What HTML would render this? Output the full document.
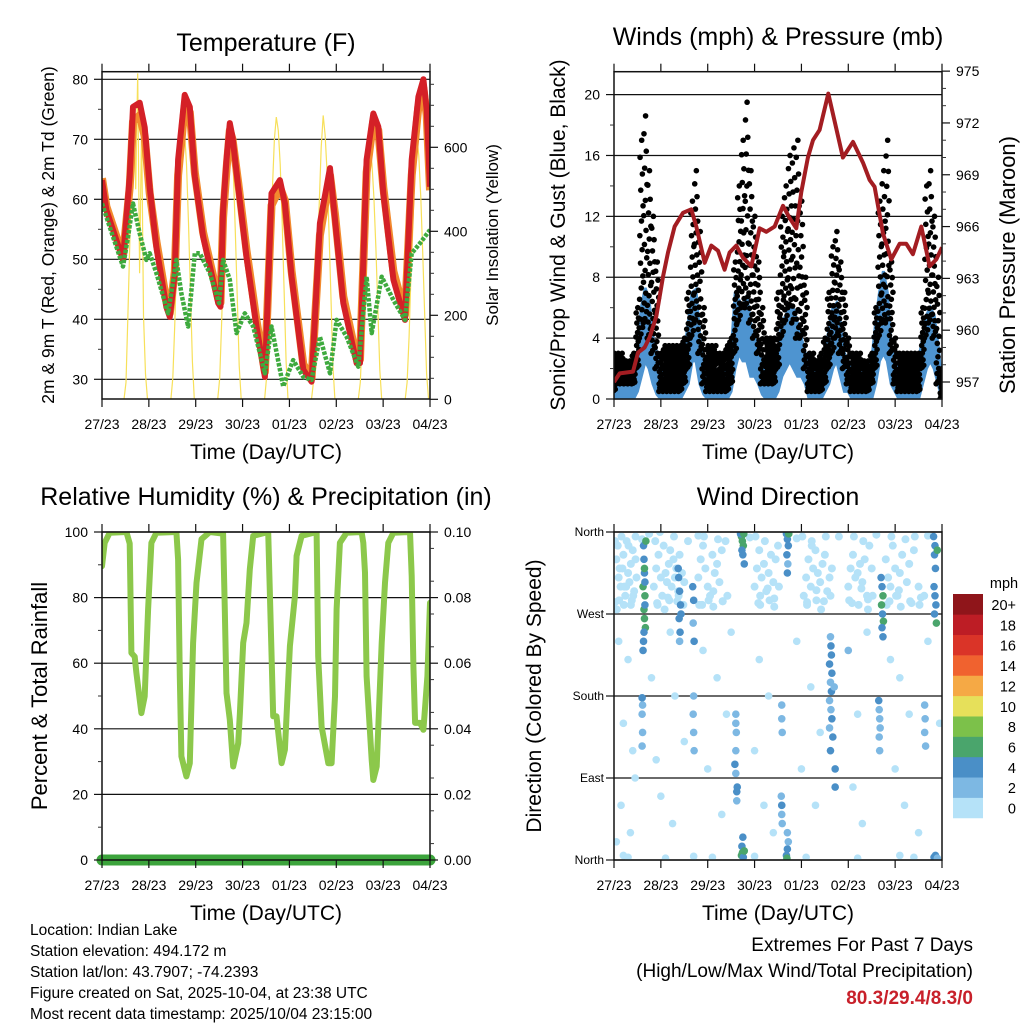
<!DOCTYPE html>
<html><head><meta charset="utf-8"><title>Indian Lake station meteogram</title>
<style>
html,body{margin:0;padding:0;background:#fff;}
svg{display:block;font-family:"Liberation Sans",Arial,sans-serif;}
</style></head>
<body>
<svg id="chart" xmlns="http://www.w3.org/2000/svg" width="1024" height="1024" viewBox="0 0 1024 1024">
<rect x="0" y="0" width="1024" height="1024" fill="#fff"/>
<g id="layer"></g>
<!-- Titles -->
<text x="266" y="51" font-size="25" text-anchor="middle">Temperature (F)</text>
<text x="778" y="45" font-size="25" text-anchor="middle">Winds (mph) &amp; Pressure (mb)</text>
<text x="266" y="505" font-size="25" text-anchor="middle">Relative Humidity (%) &amp; Precipitation (in)</text>
<text x="778" y="505" font-size="25" text-anchor="middle">Wind Direction</text>
<!-- axis titles -->
<text x="266" y="459" font-size="21" text-anchor="middle">Time (Day/UTC)</text>
<text x="778" y="459" font-size="21" text-anchor="middle">Time (Day/UTC)</text>
<text x="266" y="920" font-size="21" text-anchor="middle">Time (Day/UTC)</text>
<text x="778" y="920" font-size="21" text-anchor="middle">Time (Day/UTC)</text>
<text transform="translate(54,235) rotate(-90)" font-size="17.5" text-anchor="middle">2m &amp; 9m T (Red, Orange) &amp; 2m Td (Green)</text>
<text transform="translate(498,235) rotate(-90)" font-size="17" text-anchor="middle">Solar Insolation (Yellow)</text>
<text transform="translate(565,235) rotate(-90)" font-size="21" text-anchor="middle">Sonic/Prop Wind &amp; Gust (Blue, Black)</text>
<text transform="translate(1015,265) rotate(-90)" font-size="22" text-anchor="middle">Station Pressure (Maroon)</text>
<text transform="translate(47,696) rotate(-90)" font-size="22" text-anchor="middle">Percent &amp; Total Rainfall</text>
<text transform="translate(541,696) rotate(-90)" font-size="21" text-anchor="middle">Direction (Colored By Speed)</text>
<!-- legend -->
<text x="1004" y="588" font-size="14.5" text-anchor="middle">mph</text>
<g id="legend"></g>
<!-- footer -->
<g font-size="15.5">
<text x="30" y="935">Location: Indian Lake</text>
<text x="30" y="956">Station elevation: 494.172 m</text>
<text x="30" y="977">Station lat/lon: 43.7907; -74.2393</text>
<text x="30" y="998">Figure created on Sat, 2025-10-04, at 23:38 UTC</text>
<text x="30" y="1019">Most recent data timestamp: 2025/10/04 23:15:00</text>
</g>
<text x="973" y="951" font-size="19" text-anchor="end">Extremes For Past 7 Days</text>
<text x="973" y="977" font-size="19" text-anchor="end">(High/Low/Max Wind/Total Precipitation)</text>
<text x="973" y="1004" font-size="19" font-weight="bold" fill="#c8202a" text-anchor="end">80.3/29.4/8.3/0</text>
</svg>
<script>
// ---------- shared categories ----------
const dayLabels = ["27/23","28/23","29/23","30/23","01/23","02/23","03/23","04/23"];

// ---------- temperature panel ----------
const redT = [0,.093,.449,.591,.662,.805,.912,1.018,1.161,1.375,1.446,1.553,1.624,1.766,1.873,1.980,2.158,2.479,2.528,2.585,2.657,2.728,2.785,2.906,3.084,3.298,3.476,3.618,3.796,3.903,4.046,4.295,4.473,4.651,4.865,4.972,5.150,5.434,5.506,5.648,5.791,5.897,6.004,6.218,6.467,6.610,6.752,6.859,6.930,7.0];
const redV = [63.2,58.2,49.9,63.8,75.4,76.1,72,62,52,42,40.4,47.7,66.6,77.4,75.4,63.8,53.8,42.7,42.1,58.2,66.6,72.7,70.4,62.1,50.4,38.8,30.4,61,63.2,59.3,47.1,31.6,29.6,56,65.2,56.6,42.7,32.7,32.7,66.6,74.3,72.1,61,46.6,39.9,66.6,77.1,80,74.9,62.1];
const orangeV = [63.5,58.8,50.5,62,73,74,70.5,61,53,43,41,48,64,75.5,74.5,64.5,54.5,43.5,42.8,57,65,71.5,70,62.8,51.5,39.8,31.2,59,62,59.8,48,32.5,30.2,54,64,57.5,43.8,33.5,33.3,64.5,73,71.5,62,48,40.8,64,75.5,78.5,74,61.5];
const dewT = [0,.164,.449,.556,.662,.805,.947,1.018,1.161,1.410,1.588,1.695,1.838,1.980,2.087,2.301,2.5,2.585,2.728,2.870,3.048,3.226,3.476,3.618,3.868,4.081,4.295,4.473,4.651,4.865,5.007,5.221,5.470,5.648,5.755,5.969,6.218,6.467,6.610,6.788,7.0];
const dewV = [59.3,55.4,48.8,53.8,59.3,54.3,49.9,51,47.7,41,49.9,44.3,38.8,51,51,47.7,42.7,49.9,46.6,37.7,41,38.8,31,38.8,28.8,33.2,30.4,29.9,37.1,31,39.9,37.1,32.1,47.1,37.7,47.1,43.2,39.9,51,52.7,54.9];
const solarDay0 = [0,40,200,380,560,700,500,776,300,650,200,60,0];
const solarDay1 = [0,50,180,340,480,600,664,640,560,420,260,90,0];
const solarDay2 = [0,50,180,340,480,600,664,630,540,400,240,80,0];
const solarDay3 = [0,50,190,350,500,620,672,640,560,420,260,90,0];
const solarDay4 = [0,40,170,330,470,600,676,630,540,400,240,80,0];
const solarDay5 = [0,40,150,300,440,560,600,560,480,360,220,70,0];
const solarDay6 = [0,40,150,300,420,560,624,580,480,350,200,60,0];
const tempTicks = [30,40,50,60,70,80];
const solarTicks = [0,200,400,600];

// ---------- wind panel (2-hourly) ----------
const windHi = [2,2,1.5,1.5,1.5,2,3,6,7.3,6.5,4,3, 2,2,1.5,1.5,2,2,3,5,7,7.2,4,2.5, 2,2,2,1.5,1.5,2,3,6.8,6.5,6,6.8,5, 4,3,2.5,2,2,2.5,3,5,5.5,6,5.9,5, 4,3,2,2,2,2,3,4.5,6,6.3,5,3, 2.5,2,2,2,2,2,2.5,5,7,8.4,7,3.5, 2.5,2,2,2,2,2,2.5,4,5.5,6,5.5,3.5, 1];
const windLo = [0,0,0,0,0,0,0.5,1.5,2.5,2,1,0.3, 0,0,0,0,0,0,0.5,1,2.5,2.5,1,0.3, 0,0,0,0,0,0,0.5,2,3,2.5,2.5,1.5, 1.5,1,0.3,0,0,0,0.5,1.5,2,2.5,2,1.5, 1.5,1,0,0,0,0,0.5,1,2,2.5,1.5,0.5, 0.5,0,0,0,0,0,0,1,2.5,3,2.5,1, 0.5,0,0,0,0,0,0,1,2,2.5,2,1, 0];
const gustHi = [3,3,3,2.5,2.5,3,6,17,18.6,15,12,9, 3,3.5,3.5,3.5,3.5,3.5,4,7,13,15,11,6, 3.5,3.5,3.5,3,3,3.5,4,9,14,17,19.5,15, 12,9,6,4,4,4,7,12,14,16,16.5,17, 13,8,3,3,2.5,3,4,7,10,11,9,7, 4,3,3,3,2.5,2.5,3,6,13,15,17,9, 4,3,3,3,3,3,3,6,14,15,12,8, 2];
const gustLo = [0.5,1,1,1,1,1,2,4,5,4,3,2, 0.5,0.5,0.5,0.5,0.5,0.5,1,2,4,5,3,1, 0.5,0.5,0.5,0.5,0.5,0.5,1,3,5,6,6,5, 4,3,1,1,1,1,2,4,5,6,5,4, 4,2,0.5,0.5,0.5,0.5,1,2,3,4,3,2, 1,0.5,0.5,0.5,0.5,0.5,1,2,4,5,5,3, 1,0.5,0.5,0.5,0.5,0.5,0.5,2,4,5,4,1, 0];
const presT = [0,.121,.405,.512,.654,.761,.903,1.046,1.152,1.294,1.472,1.650,1.757,1.935,2.077,2.219,2.361,2.468,2.610,2.752,2.930,3.108,3.250,3.428,3.606,3.748,3.890,3.997,4.139,4.246,4.388,4.573,4.886,5.100,5.313,5.455,5.562,5.740,5.917,6.095,6.238,6.380,6.558,6.735,6.878,7.0];
const presV = [957.0,957.5,957.6,958.7,959.0,959.6,960.8,963.1,964.5,966.0,966.8,967.0,966.0,963.9,964.9,964.6,963.5,964.5,964.9,964.2,963.7,965.9,965.7,966.0,967.2,966.5,965.9,968.0,970.0,971.0,971.6,973.7,970.0,970.9,969.7,968.7,968.3,965.6,964.1,965.0,965.0,964.4,966.0,963.7,964.1,964.8];
const windTicks = [0,4,8,12,16,20];
const presTicks = [957,960,963,966,969,972,975];

// ---------- humidity panel ----------
const rhT = [0,.057,.164,.520,.591,.627,.698,.734,.840,.912,.983,1.054,1.161,1.588,1.624,1.660,1.695,1.802,1.873,1.944,2.016,2.123,2.301,2.585,2.621,2.657,2.728,2.799,2.906,2.942,3.013,3.084,3.155,3.226,3.547,3.618,3.653,3.725,3.832,3.903,4.010,4.117,4.152,4.259,4.580,4.615,4.687,4.829,4.900,4.972,5.007,5.078,5.221,5.541,5.577,5.613,5.648,5.755,5.791,5.862,5.969,6.040,6.111,6.218,6.574,6.610,6.645,6.681,6.788,6.859,6.944,7.0];
const rhV = [89.6,96.7,99.8,100,96.5,63.1,62,57,44.8,49.9,76.4,96.7,99.8,100,91.6,56,31.6,25.5,29.5,66.2,84.5,97.8,100,99.5,76.4,50.9,42.8,28.5,35.6,44.8,66.2,72.3,88.6,98.8,100,63.1,43.8,43.8,29.5,33.6,65.2,80.4,92.7,98.8,100,62.1,40.7,29.5,29.5,49.9,76.4,96.7,99.8,100,96.7,87.6,56,30.5,24.4,28.5,66.2,84.5,96.7,99.8,100,86.6,59.1,41.8,41.8,39.7,56,78.4];
const precipT = [0,7];
const precipV = [0,0];
const rhTicks = [0,20,40,60,80,100];
const precipTicks = ["0.00","0.02","0.04","0.06","0.08","0.10"];

// ---------- wind direction panel ----------
const calmT = [0.05,0.08,0.1,0.14,0.18,0.2,0.24,0.27,0.3,0.33,0.36,0.4,0.43,0.46,0.48,0.12,
 0.85,0.9,0.95,1.0,1.03,1.06,1.1,1.13,1.17,1.2,1.23,1.27,1.3,1.33,1.37,1.4,1.45,1.5,
 1.8,1.85,1.9,1.95,2.0,2.05,2.1,2.15,2.2,2.25,2.3,2.38,
 3.0,3.05,3.1,3.15,3.2,3.25,3.3,3.35,3.4,3.45,3.5,3.12,
 4.05,4.1,4.15,4.2,4.25,4.3,4.35,4.4,4.45,4.5,4.55,4.6,4.65,4.22,
 5.0,5.05,5.1,5.15,5.2,5.25,5.3,5.35,5.4,5.45,5.5,
 5.8,5.85,5.9,5.95,6.0,6.05,6.1,6.15,6.25,6.3,6.4,6.5,
 0.02,0.22,0.38,0.92,1.15,1.35,1.88,2.12,2.32,3.08,3.28,3.42,4.12,4.32,4.48,5.08,5.28,5.42,5.88,6.08,6.35,6.55,0.6,0.75,1.8,2.9,3.9,4.8,5.6,6.7];
const calmDeg = [330,345,310,300,320,335,290,350,315,305,325,340,295,330,310,320,
 300,320,335,310,290,345,315,305,325,340,300,330,310,320,295,335,315,305,
 310,330,345,320,300,290,335,315,325,305,340,350,
 300,320,340,310,325,295,315,335,305,330,345,290,
 290,310,330,300,320,340,315,305,325,335,295,310,320,345,
 300,320,335,310,315,325,305,330,290,345,320,
 330,310,300,345,320,290,315,335,305,325,340,300,
 283,300,285,282,288,284,280,295,284,282,298,287,283,296,284,282,298,286,284,296,282,288,352,358,356,354,353,355,357,356];
const calm2T = [0.02,0.06,0.11,0.16,0.21,0.26,0.31,0.36,0.41,0.46, 0.88,0.93,0.98,1.08,1.18,1.28,1.38,1.48,1.58, 1.82,1.92,2.02,2.12,2.22,2.32,2.42, 3.02,3.12,3.22,3.32,3.42,3.52, 4.02,4.12,4.22,4.32,4.42,4.52,4.62, 5.02,5.12,5.22,5.32,5.42,5.52, 5.82,5.92,6.02,6.12,6.22,6.32,6.42,6.52,6.62];
const calm2Deg = [350,275,285,355,280,300,345,280,290,355, 350,280,360,275,285,355,290,280,350, 280,355,285,278,352,284,290, 355,280,350,285,278,300, 355,280,350,285,275,355,290, 285,355,280,350,275,290, 280,355,290,278,352,284,355,280,290];
const scatT = [0.1,0.3,0.2,0.4,0.15,0.35,0.05,0.45,0.8,0.9,1.0,1.2,1.3,1.25,1.5,1.9,2.0,2.2,2.3,2.4,2.5,3.0,3.1,3.2,3.3,3.4,3.9,4.0,4.2,4.3,4.4,5.0,5.1,5.2,5.3,5.4,5.9,6.0,6.1,6.2,6.3,6.5,6.7,6.95,0.2,0.3,1.1,1.7,4.1,5.2,6.1,6.4,2.1,3.0];
const scatDeg = [240,220,150,120,60,30,20,90,200,110,70,250,180,40,130,230,100,200,50,160,250,120,220,60,180,30,240,100,190,60,140,230,80,160,40,250,220,100,200,60,160,30,240,150,5,3,2,4,3,2,5,3,3,4];
const scatSpd = [1,1,1,1,1,1,1,1,1,1,1,1,1,1,1,1,1,1,1,1,1,1,1,1,1,1,1,1,1,1,1,2,1,1,1,1,1,1,1,1,1,1,1,1,1,1,1,1,1,1,1,1,1,1];
const streakT = [0.63,0.64,0.65,0.62,0.66,0.64,0.65,0.67,0.63,0.65,0.68,0.66,0.64,0.62,0.66,
 1.38,1.4,1.42,1.39,1.41,1.43,1.37,1.4,
 1.68,1.7,1.69,1.71,1.7,1.69,1.7,1.71,
 2.72,2.74,2.76,2.73,2.75,2.78,2.7,2.77,2.72,2.74,2.76,2.73,2.75,2.78,
 2.6,2.6,2.61,2.6,2.58,2.6,
 3.68,3.7,3.72,3.69,3.71,3.7,3.73,3.68,3.7,3.72,3.7,3.69,
 3.58,3.58,3.59,3.57,3.58,3.58,3.59,
 4.62,4.63,4.64,4.6,4.65,4.62,4.64,4.6,4.63,4.65,4.6,4.67,4.62,4.7,4.72,4.72,
 5.7,5.72,5.74,5.71,5.73,5.75,5.72,5.74,
 5.65,5.66,5.67,5.68,5.66,5.67,
 6.82,6.85,6.84,6.86,6.83,6.85,6.87,6.84,6.9,6.88,
 6.63,6.64,6.63,6.65,6.83,6.86,6.9,
 0.6,0.61,0.6,0.61,0.6, 2.62,2.63,2.62];
const streakDeg = [345,330,315,300,290,275,265,255,240,320,350,280,250,230,305,
 310,295,280,265,250,270,320,240,
 300,285,260,240,180,160,140,120,
 355,350,345,340,335,325,358,358,5,8,3,15,25,10,
 160,150,140,120,105,95,
 358,352,345,335,325,315,358,5,12,20,30,2,
 170,155,140,70,60,50,40,
 245,235,225,215,205,195,185,175,165,155,145,135,120,190,100,80,
 310,300,290,280,270,262,255,245,
 175,165,155,145,135,120,
 355,345,335,320,300,290,280,270,340,260,
 170,155,140,125,3,5,2,
 178,170,160,140,125, 75,80,65];
const streakSpd = [4,4,5,6,7,6,7,6,4,7,7,4,4,4,4,
 4,4,5,4,4,5,4,3,
 4,4,3,4,2,2,3,2,
 6,7,6,4,4,4,4,6,6,7,4,4,4,6,
 2,3,2,3,4,3,
 4,4,4,4,3,4,6,4,4,3,3,6,
 3,3,2,3,4,3,3,
 3,4,4,4,4,3,4,3,2,4,2,4,4,3,4,4,
 4,4,6,6,4,7,4,4,
 4,3,3,3,2,3,
 4,4,4,4,4,4,4,5,6,6,
 2,2,3,2,4,4,3,
 4,3,3,2,2, 4,4,3];
const dirTicks = [0,90,180,270,360];
const dirLabels = ["North","East","South","West","North"];
const speedBins = ["0","2","4","6","8","10","12","14","16","18","20+"];
const speedColors = ["#b5e2f8","#7db8e3","#4a8fc7","#4aa56c","#7cc14a","#e6e05a","#f5a945","#f0622f","#da3428","#bd1d25","#8f151a"];

// ---------- drawing ----------
const NS = "http://www.w3.org/2000/svg";
const layer = document.getElementById("layer");
function mk(tag, attrs, parent) {
  const e = document.createElementNS(NS, tag);
  for (const k in attrs) e.setAttribute(k, attrs[k]);
  (parent || layer).appendChild(e);
  return e;
}
function panelX(x0, x1) { return d => x0 + (x1 - x0) * d / 7; }

const P1 = {x0:102, x1:430, y0:71.7, y1:399};
const tX = panelX(P1.x0, P1.x1);
const tY = v => 79.3 + (80 - v) * 6;
const sY = v => 399.3 - v * 0.42;
const P2 = {x0:614, x1:942, y0:71.7, y1:399};
const wX = panelX(P2.x0, P2.x1);
const wY = v => 399 - v * 15.22;
const pY = p => 382 - (p - 957) * 17.27;
const P3 = {x0:102, x1:430, y0:532, y1:860};
const hX = panelX(P3.x0, P3.x1);
const hY = v => 860 - v * 3.28;
const prY = v => 860 - v * 3280;
const P4 = {x0:614, x1:942, y0:532, y1:860};
const dX = panelX(P4.x0, P4.x1);
const dY = d => 860 - d * 328 / 360;

function grid(P, ys, name) {
  ys.forEach(y => {
    const l = mk("line", {x1:P.x0, x2:P.x1, y1:y, y2:y, stroke:"#111", "stroke-width":1.2});
    
    
  });
}
function xAxis(P, xf, name) {
  for (let i = 0; i < dayLabels.length; i++) {
    const x = xf(i);
    const t1 = mk("line", {x1:x, x2:x, y1:P.y1, y2:P.y1 + 8, stroke:"#111", "stroke-width":1.2});
    
    
    const t2 = mk("line", {x1:x, x2:x, y1:P.y0 - 8, y2:P.y0, stroke:"#111", "stroke-width":1.2});
    
    
    const lb = mk("text", {x:x, y:P.y1 + 30, "font-size":14, "text-anchor":"middle"});
    lb.textContent = dayLabels[i];
    
    
  }
}
function yTicks(P, vals, yf, side, labels, name, minorVals) {
  const xa = side === "left" ? P.x0 : P.x1;
  const dir = side === "left" ? -1 : 1;
  (minorVals || []).forEach(v => {
    const m = mk("line", {x1:xa, x2:xa + dir * 4, y1:yf(v), y2:yf(v), stroke:"#333", "stroke-width":1});
    
    
  });
  vals.forEach((v, i) => {
    const y = yf(v);
    const t = mk("line", {x1:xa, x2:xa + dir * 8, y1:y, y2:y, stroke:"#111", "stroke-width":1.2});
    
    
    const lb = mk("text", {x:xa + dir * 14, y:y + 5, "font-size":14, "text-anchor": side === "left" ? "end" : "start"});
    lb.textContent = labels ? labels[i] : String(v);
    
    
  });
}
function box(P, name) {
  const r = mk("rect", {x:P.x0, y:P.y0, width:P.x1 - P.x0, height:P.y1 - P.y0, fill:"none", stroke:"#111", "stroke-width":1.5});
  
  
}
function path(xs, ys, xf, yf, attrs, name) {
  let d = "";
  for (let i = 0; i < xs.length; i++) d += (i ? "L" : "M") + xf(xs[i]).toFixed(1) + "," + yf(ys[i]).toFixed(1);
  attrs.d = d; attrs.fill = attrs.fill || "none";
  const p = mk("path", attrs);
  
  
  return p;
}
function clip(P, id) {
  const cp = mk("clipPath", {id:id});
  mk("rect", {x:P.x0, y:P.y0, width:P.x1 - P.x0, height:P.y1 - P.y0}, cp);
}

// ===== Panel 1: temperature =====
clip(P1, "c1");
grid(P1, tempTicks.map(tY), "temperature");
const solarDays = [solarDay0, solarDay1, solarDay2, solarDay3, solarDay4, solarDay5, solarDay6];
const solarT = [], solarV = [];
solarT.push(0); solarV.push(0);
solarDays.forEach((arr, k) => arr.forEach((v, i) => { solarT.push(k + 0.47 + i / 24); solarV.push(v); }));
solarT.push(7); solarV.push(0);
path(solarT, solarV, tX, sY, {stroke:"#f7e05a", "stroke-width":1.2, "clip-path":"url(#c1)"}, "solar-insolation-line");
path(redT, orangeV, tX, tY, {stroke:"#f28a2e", "stroke-width":8, "stroke-linejoin":"round", "clip-path":"url(#c1)"}, "temperature-9m-orange-line");
path(redT, redV, tX, tY, {stroke:"#d42027", "stroke-width":6, "stroke-linejoin":"round", "clip-path":"url(#c1)"}, "temperature-2m-red-line");
path(dewT, dewV, tX, tY, {stroke:"#3eaa3e", "stroke-width":4.5, "stroke-dasharray":"3.5 1.5", "stroke-linejoin":"round", "clip-path":"url(#c1)"}, "dewpoint-green-line");
box(P1, "temperature");
xAxis(P1, tX, "temperature");
yTicks(P1, tempTicks, tY, "left", null, "temperature-y", [35,45,55,65,75]);
yTicks(P1, solarTicks, sY, "right", null, "solar-y", [50,100,150,250,300,350,450,500,550,650,700,750]);

// ===== Panel 2: winds =====
clip(P2, "c2");
grid(P2, windTicks.map(wY), "wind");
const wT = windHi.map((v, i) => i / 12);
let band = "";
for (let i = 0; i < windHi.length; i++) band += (i ? "L" : "M") + wX(wT[i]).toFixed(1) + "," + wY(windHi[i]).toFixed(1);
for (let i = windLo.length - 1; i >= 0; i--) band += "L" + wX(wT[i]).toFixed(1) + "," + wY(windLo[i]).toFixed(1);
const bandEl = mk("path", {d:band + "Z", fill:"#4e94d0", stroke:"#4e94d0", "stroke-width":3, "clip-path":"url(#c2)"});


const gustG = mk("g", {"clip-path":"url(#c2)"});


for (let i = 0; i < gustHi.length; i++) {
  const steps = 17;
  for (let k = 0; k < steps; k++) {
    const f = k / (steps - 1);
    const dt = (((k * 7) % steps) / steps - 0.5) / 12;
    const v = gustLo[i] + (gustHi[i] - gustLo[i]) * Math.pow(f, 1.4);
    const c = mk("circle", {cx:wX(wT[i] + dt), cy:wY(v), r:2.8, fill:"#000"}, gustG);
    
    
  }
}
path(presT, presV, wX, pY, {stroke:"#a31d22", "stroke-width":4, "stroke-linejoin":"round", "clip-path":"url(#c2)"}, "station-pressure-line");
box(P2, "wind");
xAxis(P2, wX, "wind");
yTicks(P2, windTicks, wY, "left", null, "wind-y", [2,6,10,14,18]);
yTicks(P2, presTicks, pY, "right", null, "pressure-y", [958,959,961,962,964,965,967,968,970,971,973,974]);

// ===== Panel 3: humidity =====
clip(P3, "c3");
grid(P3, rhTicks.map(hY), "humidity");
path(rhT, rhV, hX, hY, {stroke:"#8cc84b", "stroke-width":6, "stroke-linejoin":"round", "stroke-linecap":"round", "clip-path":"url(#c3)"}, "relative-humidity-line");
path(precipT, precipV, hX, prY, {stroke:"#3ca43c", "stroke-width":11, "stroke-linecap":"round"}, "precipitation-line");
box(P3, "humidity");
xAxis(P3, hX, "humidity");
yTicks(P3, rhTicks, hY, "left", null, "humidity-y", [10,30,50,70,90]);
yTicks(P3, rhTicks, hY, "right", precipTicks, "precip-y", [5,15,25,35,45,55,65,75,85,95]);

// ===== Panel 4: wind direction =====
clip(P4, "c4");
grid(P4, dirTicks.map(dY), "direction");
const dirG = mk("g", {"clip-path":"url(#c4)"});


function spdColor(s) { return speedColors[Math.min(10, Math.floor(s / 2))]; }
calmT.forEach((t, i) => {
  const c = mk("circle", {cx:dX(t), cy:dY(calmDeg[i]), r:4, fill:spdColor(1)}, dirG);
  
  
});
calm2T.forEach((t, i) => {
  const c = mk("circle", {cx:dX(t), cy:dY(calm2Deg[i]), r:4, fill:spdColor(1)}, dirG);
  
  
});
scatT.forEach((t, i) => {
  const c = mk("circle", {cx:dX(t), cy:dY(scatDeg[i]), r:3.8, fill:spdColor(scatSpd[i])}, dirG);
  
  
});
streakT.forEach((t, i) => {
  const c = mk("circle", {cx:dX(t), cy:dY(streakDeg[i]), r:3.8, fill:spdColor(streakSpd[i])}, dirG);
  
  
});
box(P4, "direction");
xAxis(P4, dX, "direction");
dirTicks.forEach((v, i) => {
  const y = dY(v);
  const t = mk("line", {x1:P4.x0 - 8, x2:P4.x0, y1:y, y2:y, stroke:"#111", "stroke-width":1.2});
  
  
  const lb = mk("text", {x:P4.x0 - 10, y:y + 4, "font-size":12, "text-anchor":"end"});
  lb.textContent = dirLabels[i];
  
  
});

// legend
const lg = document.getElementById("legend");
const lgTop = 594, lgH = 20.36;
speedBins.forEach((lab, i) => {
  const j = speedBins.length - 1 - i;
  const r = mk("rect", {x:953, y:lgTop + j * lgH, width:30, height:lgH + 0.3, fill:speedColors[i]}, lg);
  
  
  const t = mk("text", {x:1016, y:lgTop + j * lgH + 16, "font-size":14.5, "text-anchor":"end"}, lg);
  t.textContent = lab;
  
  
});
</script>
</body></html>
